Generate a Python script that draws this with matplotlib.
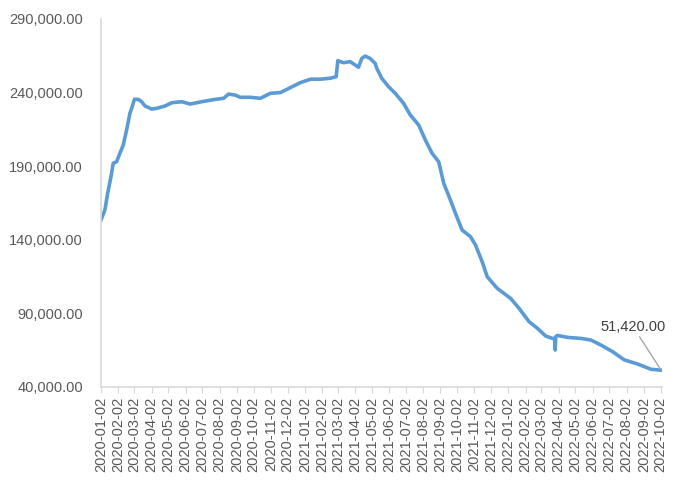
import matplotlib.pyplot as plt
import matplotlib.dates as mdates
import matplotlib.ticker as mticker
import pandas as pd

plt.rcParams['font.family'] = ['Liberation Sans', 'DejaVu Sans']

# values
dates = [
    '2020-01-02', '2020-01-09', '2020-01-14', '2020-01-20', '2020-01-24', '2020-01-30',
    '2020-02-05', '2020-02-11', '2020-02-17', '2020-02-23', '2020-02-27', '2020-03-02',
    '2020-03-09', '2020-03-15', '2020-03-21', '2020-04-02', '2020-04-11', '2020-04-26',
    '2020-05-08', '2020-05-26', '2020-06-10', '2020-07-01', '2020-07-25', '2020-08-09',
    '2020-08-18', '2020-08-30', '2020-09-08', '2020-09-26', '2020-10-14', '2020-11-01',
    '2020-11-19', '2020-12-07', '2020-12-25', '2021-01-12', '2021-01-30', '2021-02-17',
    '2021-02-27', '2021-03-02', '2021-03-12', '2021-03-24', '2021-04-02', '2021-04-08',
    '2021-04-14', '2021-04-20', '2021-04-29', '2021-05-08', '2021-05-11', '2021-05-20',
    '2021-06-01', '2021-06-13', '2021-06-28', '2021-07-10', '2021-07-25', '2021-08-06',
    '2021-08-18', '2021-08-30', '2021-09-08', '2021-09-20', '2021-09-29', '2021-10-11',
    '2021-10-26', '2021-11-04', '2021-11-16', '2021-11-25', '2021-12-13', '2022-01-06',
    '2022-01-21', '2022-02-08', '2022-02-23', '2022-03-10', '2022-03-22', '2022-03-26',
    '2022-03-27', '2022-03-28', '2022-03-31', '2022-04-18', '2022-05-12', '2022-05-30',
    '2022-06-17', '2022-07-08', '2022-07-29', '2022-08-22', '2022-09-15', '2022-10-03',
]
values = [
    153500, 160200, 171600, 183000, 192000, 193000,
    198800, 204400, 214600, 226000, 230400, 235400,
    235400, 233800, 230900, 228800, 229300, 230900,
    233100, 233800, 232200, 233800, 235400, 236100,
    239000, 238300, 236800, 236800, 236100, 239500,
    240000, 243400, 246800, 249100, 249100, 249800,
    250800, 261700, 260300, 261000, 258800, 257200,
    263200, 264800, 263200, 259800, 256400, 249600,
    244000, 239500, 232700, 224800, 218000, 207800,
    198800, 193000, 178400, 167000, 158000, 146600,
    142100, 136500, 125100, 114900, 107000, 100200,
    93500, 84400, 79900, 74600, 73000, 73000,
    65100, 74200, 75000, 73700, 73000, 71900,
    68500, 64000, 58400, 55600, 52000, 51420,
]
y_ticks = [40000, 90000, 140000, 190000, 240000, 290000]
last_label = '51,420.00'

x = pd.to_datetime(dates)
tick_dates = pd.date_range('2020-01-01', '2022-10-01', freq='MS') + pd.Timedelta(days=1)

fig = plt.figure(figsize=(6.8, 4.83), dpi=100)
ax = fig.add_axes([0.1485, 0.1988, 0.8245, 0.7619])

ax.plot(x, values, color='#5B9BD5', linewidth=2.6)

ax.set_ylim(40000, 290000)
ax.set_yticks(y_ticks)
ax.yaxis.set_major_formatter(mticker.FuncFormatter(lambda v, p: f'{v:,.2f}'))
ax.set_xlim(pd.Timestamp('2020-01-02'), pd.Timestamp('2022-10-04'))
ax.set_xticks(tick_dates)
ax.xaxis.set_major_formatter(mdates.DateFormatter('%Y-%m-%d'))

ax.tick_params(axis='x', rotation=90, labelsize=10.5, colors='#595959',
               length=4, color='#D9D9D9', pad=3)
ax.tick_params(axis='y', labelsize=10.5, colors='#595959', length=0, pad=13)

for side in ['top', 'right']:
    ax.spines[side].set_visible(False)
for side in ['left', 'bottom']:
    ax.spines[side].set_color('#D9D9D9')
    ax.spines[side].set_linewidth(1.2)

ax.annotate(last_label, xy=(x[-1], values[-1]), xytext=(-20, 26),
            textcoords='offset points', ha='center', va='bottom',
            fontsize=10.5, color='#404040',
            arrowprops=dict(arrowstyle='-', color='#A6A6A6', lw=1,
                            shrinkA=0, shrinkB=1))

fig.savefig('out.png', dpi=100)
